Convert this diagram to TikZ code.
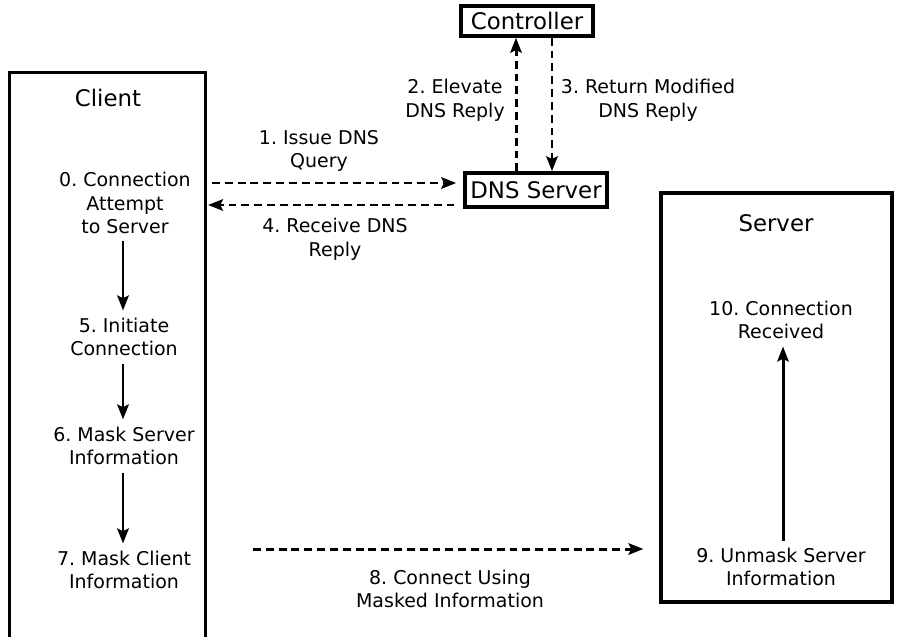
\documentclass[tikz,border=0pt]{standalone}
\usepackage{fontspec}
\setmainfont{DejaVu Sans}
\usetikzlibrary{arrows.meta}

\begin{document}
\frenchspacing
\begin{tikzpicture}[x=0.02cm,y=-0.02cm,
  frame/.style={draw,line width=2pt},
  title/.style={font=\fontsize{13}{16}\selectfont},
  stepnode/.style={align=center,font=\fontsize{10.8}{13.4}\selectfont,inner sep=4pt},
  flow/.style={line width=1.7pt,-{Stealth[length=8.5pt,width=6.5pt,inset=1.5pt]}},
  msg/.style={flow,dash pattern=on 4.5pt off 2.8pt}]
\useasboundingbox (0,0) rectangle (902,636);

% client side, box runs off the bottom
\draw [line width=2pt] (9.5,640) -- (9.5,72.5) -- (205.5,72.5) -- (205.5,640);
\node [title] (client) at (108,98) {Client};
\node [stepnode] (s0) at (125,203) {0. Connection\\Attempt\\to Server};
\node [stepnode] (s5) at (124,337) {5. Initiate\\Connection};
\node [stepnode] (s6) at (124,446) {6. Mask Server\\Information};
\node [stepnode] (s7) at (124,570) {7. Mask Client\\Information};
\draw [flow] (s0.south -| 123,0) -- (s5.north -| 123,0);
\draw [flow] (s5.south -| 123,0) -- (s6.north -| 123,0);
\draw [flow] (s6.south -| 123,0) -- (s7.north -| 123,0);

% dns and controller
\node [frame,title,inner sep=1.5pt,minimum width=2.64cm,minimum height=0.6cm] (ctrl) at (527,21) {Controller};
\node [frame,title,inner sep=1.5pt,minimum width=2.84cm,minimum height=0.68cm] (dns) at (536,190) {DNS Server};
\draw [msg] ([xshift=-0.4cm]dns.north) -- ([xshift=-0.4cm]dns.north |- ctrl.south);
\draw [msg] ([xshift=0.32cm]dns.north |- ctrl.south) -- ([xshift=0.32cm]dns.north);
\node [stepnode] (l2) at (455,100) {2. Elevate\\DNS Reply};
\node [stepnode] (l3) at (648,100) {3. Return Modified\\DNS Reply};

\coordinate (q1) at (212,183);
\coordinate (r4) at (208,205);
\draw [msg,shorten >=4pt] (q1) -- (dns.west |- q1);
\draw [msg,shorten <=5pt] (dns.west |- r4) -- (r4);
\node [stepnode] (l1) at (319,151) {1. Issue DNS\\Query};
\node [stepnode] (l4) at (335,239) {4. Receive DNS\\Reply};

% server side
\node [frame,minimum width=4.62cm,minimum height=8.18cm] (server) at (776.5,397.5) {};
\node [title] (srvtitle) at (776,223) {Server};
\node [stepnode] (s10) at (781,320) {10. Connection\\Received};
\node [stepnode] (s9) at (781,567) {9. Unmask Server\\Information};
\draw [flow] (s9.north -| 783,0) -- (s10.south -| 783,0);

\coordinate (c8) at (253,549);
\draw [msg,shorten >=9pt] (c8) -- (server.west |- c8);
\node [stepnode] (l8) at (450,589) {8. Connect Using\\Masked Information};
\end{tikzpicture}
\end{document}
